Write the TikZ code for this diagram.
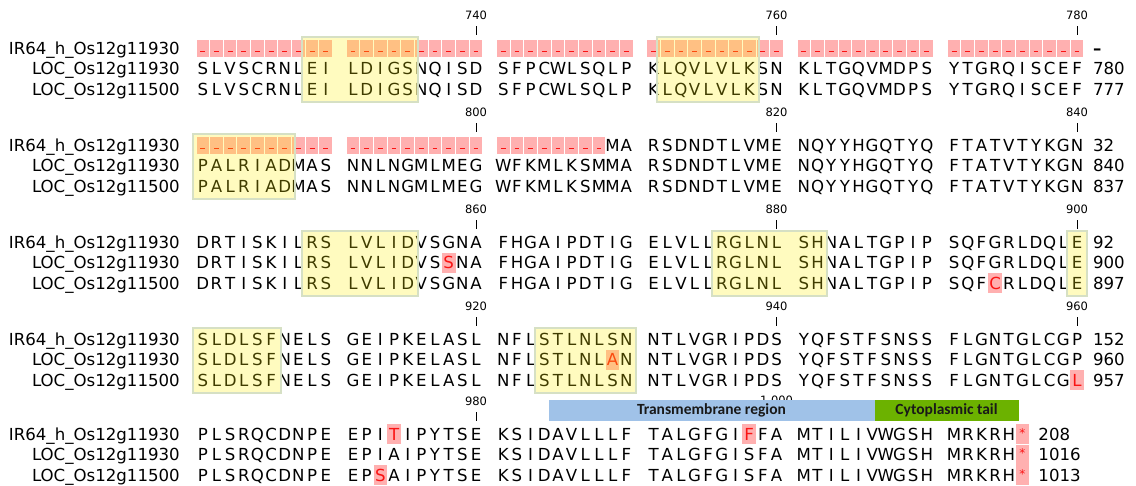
\documentclass[tikz,border=0pt]{standalone}
\usepackage{fontspec}
\setmainfont{DejaVu Sans}
\newfontfamily\barfont{Carlito}

\definecolor{cellpink}{RGB}{255,176,176}
\definecolor{hlred}{RGB}{250,20,20}
\definecolor{boxedge}{RGB}{214,224,196}
\definecolor{tmblue}{RGB}{160,194,232}
\definecolor{cytogreen}{RGB}{108,178,0}

% column geometry: residues sit in fixed cells, blocks of ten separated by one empty cell
\def\xorig{196}
\def\cw{13.66}
\newcount\rescol

% place one residue: '-' = gap cell, '*' = stop cell, lower case = substituted residue
\newcommand\placeres[1]{%
  \pgfmathsetmacro\cx{\xorig+(\the\rescol+floor(\the\rescol/10)+0.5)*\cw}%
  \ifx-#1%
    \fill[cellpink] (\cx-\cw/2+0.5,\cy-8.3) rectangle (\cx+\cw/2-0.5,\cy+8.7);
    \draw[gapdash] (\cx-2.4,\cy+3.5) -- (\cx+2.4,\cy+3.5);
  \else\ifx*#1%
    \fill[cellpink] (\cx-\cw/2+0.3,\cy-10) rectangle (\cx+\cw/2-0.3,\cy+10);
    \node[resid,text=hlred,font=\fontsize{12}{12}\selectfont] (\rowid-\the\rescol) at (\cx,\cy+3) {*};
  \else\ifnum`#1>`Z\relax
    \uppercase{\def\upch{#1}}%
    \fill[cellpink] (\cx-\cw/2,\cy-10) rectangle (\cx+\cw/2,\cy+10);
    \node[resid,text=hlred] (\rowid-\the\rescol) at (\cx,\cy+6) {\upch};
  \else
    \node[resid] (\rowid-\the\rescol) at (\cx,\cy+6) {#1};
  \fi\fi\fi}
\def\seqscan#1{\ifx\relax#1\else\placeres{#1}\advance\rescol by 1\relax\expandafter\seqscan\fi}

% one sequence line: node prefix, centre y, name, residues, end number
\newcommand\seqline[5]{%
  \def\rowid{#1}\def\cy{#2}%
  \node[seqname] (#1-name) at (180,#2+6) {#3};
  \rescol=0 \seqscan#4\relax
  \pgfmathsetmacro\ex{\xorig+(\the\rescol-1+floor((\the\rescol-1)/10)+1)*\cw+9}%
  \node[resid,anchor=base west] (#1-end) at (\ex,#2+6) {#5};}

% ruler tick above a column: name, row y, column, label
\newcommand\rulertick[4]{%
  \pgfmathsetmacro\tx{\xorig+(#3+floor(#3/10)+0.5)*\cw}%
  \node[ticklab] (#1) at (\tx,#2-33) {#4};
  \draw[tickline] (\tx,#2-22) -- (\tx,#2-13);}

% translucent motif box over the three lines: row y, first column, last column
\newcommand\motifbox[3]{%
  \pgfmathsetmacro\bl{\xorig+(#2+floor(#2/10))*\cw-3}%
  \pgfmathsetmacro\br{\xorig+(#3+floor(#3/10)+1)*\cw+3}%
  \fill[yellow,fill opacity=0.25] (\bl,#1-11) rectangle (\br,#1+54);
  \draw[boxedge,line width=2] (\bl,#1-11) rectangle (\br,#1+54);}

\begin{document}
\begin{tikzpicture}[x=1pt,y=-1pt,
  resid/.style={font=\fontsize{16.6}{16.6}\selectfont,inner sep=0pt,anchor=base},
  seqname/.style={font=\fontsize{16.6}{16.6}\selectfont,inner sep=0pt,anchor=base east},
  ticklab/.style={font=\fontsize{11.5}{11.5}\selectfont,inner sep=0pt},
  tickline/.style={line width=0.9pt,black},
  gapdash/.style={hlred,line width=1.2pt},
  regionbar/.style={inner sep=0pt,minimum height=21,font=\barfont\bfseries\fontsize{15.5}{15.5}\selectfont,text=black!90}]
\useasboundingbox (0,0) rectangle (1136,485);
\fill[white] (0,0) rectangle (1136,485);

% ---- block 721-780
\rulertick{t740}{48}{19}{740}
\rulertick{t760}{48}{39}{760}
\rulertick{t780}{48}{59}{780}
\seqline{r1a}{48}{IR64\_h\_Os12g11930}{---------- ---------- ---------- ---------- ---------- ----------}{\textbf{–}}
\seqline{r1b}{68.5}{LOC\_Os12g11930}{SLVSCRNLEI LDIGSNQISD SFPCWLSQLP KLQVLVLKSN KLTGQVMDPS YTGRQISCEF}{780}
\seqline{r1c}{89}{LOC\_Os12g11500}{SLVSCRNLEI LDIGSNQISD SFPCWLSQLP KLQVLVLKSN KLTGQVMDPS YTGRQISCEF}{777}
\motifbox{48}{8}{14}
\motifbox{48}{31}{37}

% ---- block 781-840
\rulertick{t800}{145}{19}{800}
\rulertick{t820}{145}{39}{820}
\rulertick{t840}{145}{59}{840}
\seqline{r2a}{145}{IR64\_h\_Os12g11930}{---------- ---------- --------MA RSDNDTLVME NQYYHGQTYQ FTATVTYKGN}{32}
\seqline{r2b}{165.5}{LOC\_Os12g11930}{PALRIADMAS NNLNGMLMEG WFKMLKSMMA RSDNDTLVME NQYYHGQTYQ FTATVTYKGN}{840}
\seqline{r2c}{186}{LOC\_Os12g11500}{PALRIADMAS NNLNGMLMEG WFKMLKSMMA RSDNDTLVME NQYYHGQTYQ FTATVTYKGN}{837}
\motifbox{145}{0}{6}

% ---- block 841-900
\rulertick{t860}{242}{19}{860}
\rulertick{t880}{242}{39}{880}
\rulertick{t900}{242}{59}{900}
\seqline{r3a}{242}{IR64\_h\_Os12g11930}{DRTISKILRS LVLIDVSGNA FHGAIPDTIG ELVLLRGLNL SHNALTGPIP SQFGRLDQLE}{92}
\seqline{r3b}{262.5}{LOC\_Os12g11930}{DRTISKILRS LVLIDVSsNA FHGAIPDTIG ELVLLRGLNL SHNALTGPIP SQFGRLDQLE}{900}
\seqline{r3c}{283}{LOC\_Os12g11500}{DRTISKILRS LVLIDVSGNA FHGAIPDTIG ELVLLRGLNL SHNALTGPIP SQFcRLDQLE}{897}
\motifbox{242}{8}{14}
\motifbox{242}{35}{41}
\motifbox{242}{59}{59}

% ---- block 901-960
\rulertick{t920}{339}{19}{920}
\rulertick{t940}{339}{39}{940}
\rulertick{t960}{339}{59}{960}
\seqline{r4a}{339}{IR64\_h\_Os12g11930}{SLDLSFNELS GEIPKELASL NFLSTLNLSN NTLVGRIPDS YQFSTFSNSS FLGNTGLCGP}{152}
\seqline{r4b}{359.5}{LOC\_Os12g11930}{SLDLSFNELS GEIPKELASL NFLSTLNLaN NTLVGRIPDS YQFSTFSNSS FLGNTGLCGP}{960}
\seqline{r4c}{380}{LOC\_Os12g11500}{SLDLSFNELS GEIPKELASL NFLSTLNLSN NTLVGRIPDS YQFSTFSNSS FLGNTGLCGl}{957}
\motifbox{339}{0}{5}
\motifbox{339}{23}{29}

% ---- block 961-1016
\rulertick{t980}{434}{19}{980}
\rulertick{t1000}{434}{39}{1,000}
\seqline{r5a}{434}{IR64\_h\_Os12g11930}{PLSRQCDNPE EPItIPYTSE KSIDAVLLLF TALGFGIfFA MTILIVWGSH MRKRH*}{208}
\seqline{r5b}{454.5}{LOC\_Os12g11930}{PLSRQCDNPE EPIAIPYTSE KSIDAVLLLF TALGFGISFA MTILIVWGSH MRKRH*}{1016}
\seqline{r5c}{475}{LOC\_Os12g11500}{PLSRQCDNPE EPsAIPYTSE KSIDAVLLLF TALGFGISFA MTILIVWGSH MRKRH*}{1013}

% annotation track
\node[regionbar,fill=tmblue,minimum width=326] (tm) at (711.5,410.5) {Transmembrane region};
\node[regionbar,fill=cytogreen,minimum width=144] (cyto) at (946.5,410.5) {Cytoplasmic tail};
\end{tikzpicture}
\end{document}
